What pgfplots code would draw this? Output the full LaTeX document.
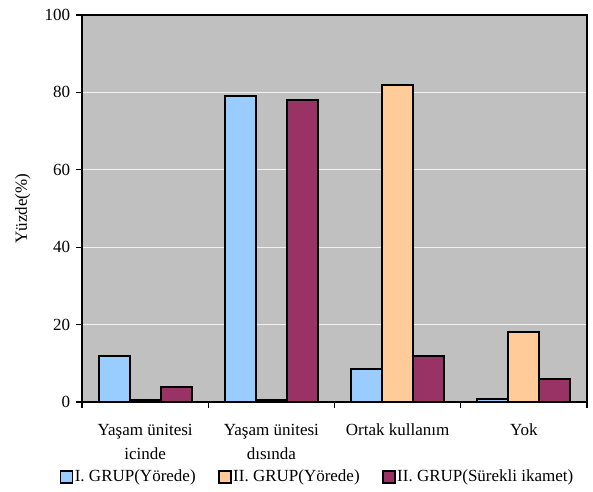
\documentclass[border=0pt]{standalone}
\usepackage{pgfplots}
\pgfplotsset{compat=1.18}
\usepackage{fontspec}
\setmainfont{Liberation Serif}
\definecolor{cblue}{HTML}{99CCFF}
\definecolor{cpeach}{HTML}{FFCC99}
\definecolor{cmaroon}{HTML}{993366}
\definecolor{bggray}{HTML}{C0C0C0}
\begin{document}
\fontsize{17}{20}\selectfont
\begin{tikzpicture}
\useasboundingbox (-82pt,-89pt) rectangle (511pt,402pt);
\begin{axis}[
  at={(0,0)}, anchor=south west,
  scale only axis, width=505pt, height=387pt,
  xmin=-0.5, xmax=3.5, ymin=0, ymax=100,
  ybar=0pt, bar width=31pt,
  axis background/.style={fill=bggray},
  axis line style={line width=1.5pt},
  ytick={0,20,40,60,80,100},
  ymajorgrids, grid style={white!90!gray, line width=0.8pt},
  xtick={0,1,2,3},
  xticklabels={{Yaşam ünitesi\\icinde},{Yaşam ünitesi\\dısında},{Ortak kullanım},{Yok}},
  every major x tick/.style={draw=none},
  minor xtick={-0.5,0.5,1.5,2.5,3.5},
  tick align=outside, tick pos=left,
  major tick length=6pt, minor tick length=6pt,
  every tick/.style={black, line width=1.2pt},
  xticklabel style={align=center, font=\fontsize{17}{24}\selectfont, yshift=-10pt},
  yticklabel style={font=\fontsize{17}{20}\selectfont},
  /pgf/number format/assume math mode=true,
  ylabel={Yüzde(\%)},
  every axis y label/.style={at={(axis description cs:-0.117,0.5)}, rotate=90, anchor=center, font=\fontsize{17}{20}\selectfont},
  legend columns=3,
  legend style={at={(axis description cs:0.466,-0.194)}, anchor=center, draw=none, fill=none,
    font=\fontsize{17}{20}\selectfont,
    /tikz/every even column/.append style={column sep=21pt},
    nodes={inner sep=1.5pt}},
  legend image code/.code={\draw[#1, draw=black, line width=1.5pt] (0pt,-6pt) rectangle (12pt,6pt);},
]
\addplot[fill=cblue, draw=black, line width=2pt] coordinates {(0,12) (1,79) (2,8.6) (3,0.9)};
\addplot[fill=cpeach, draw=black, line width=2pt] coordinates {(0,0.6) (1,0.6) (2,82) (3,18)};
\addplot[fill=cmaroon, draw=black, line width=2pt] coordinates {(0,4) (1,78) (2,12) (3,6)};
\legend{I. GRUP(Yörede), II. GRUP(Yörede), II. GRUP(Sürekli ikamet)}
\end{axis}
\end{tikzpicture}
\end{document}
